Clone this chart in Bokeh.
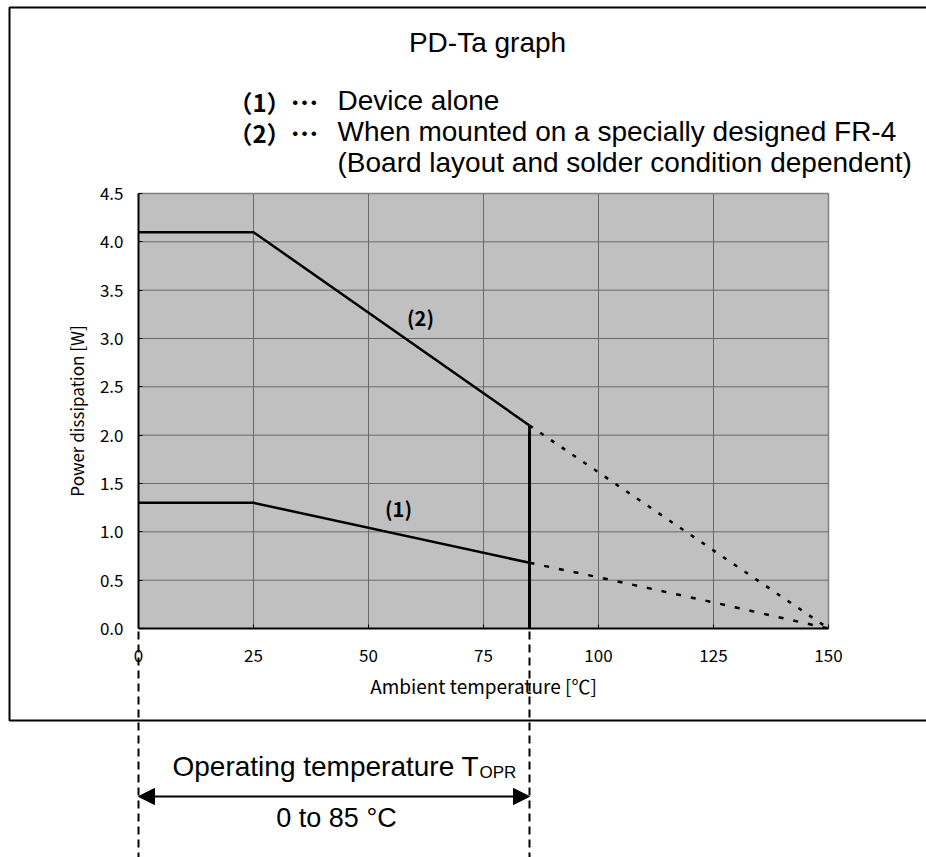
from bokeh.plotting import figure
from bokeh.models import (Range1d, Label, Arrow, NormalHead, FixedTicker,
                          NumeralTickFormatter, LinearAxis)
from bokeh.embed import file_html
from bokeh.resources import INLINE

# ---------------- data ----------------
temp_ticks = [0, 25, 50, 75, 100, 125, 150]
pd_ticks = [0.0, 0.5, 1.0, 1.5, 2.0, 2.5, 3.0, 3.5, 4.0, 4.5]

# (1) device alone
curve1_t = [0, 25, 85]
curve1_pd = [1.3, 1.3, 0.68]
curve1_ext_t = [85, 100, 125, 150]
curve1_ext_pd = [0.68, 0.53, 0.27, 0.0]

# (2) mounted on FR-4
curve2_t = [0, 25, 85]
curve2_pd = [4.1, 4.1, 2.1]
curve2_ext_t = [85, 150]
curve2_ext_pd = [2.1, 0.0]

opr_range = [0, 85]

# ---------------- layout (pixel positions of the plot area) ----------------
W, H = 926, 857
FL, FR, FT, FB = 138, 828, 193, 628
X0, X1 = temp_ticks[0], temp_ticks[-1]
Y0, Y1 = pd_ticks[0], pd_ticks[-1]


def dx(px):
    return X0 + (px - FL) * (X1 - X0) / (FR - FL)


def dy(py):
    return Y0 + (FB - py) * (Y1 - Y0) / (FB - FT)


p = figure(width=W, height=H, x_range=Range1d(dx(0), dx(W)), y_range=Range1d(dy(H), dy(0)),
           output_backend="svg", toolbar_location=None,
           x_axis_location=None, y_axis_location=None,
           min_border=0, background_fill_color="white", border_fill_color="white")
p.outline_line_color = None
p.grid.visible = False

TICK_FONT = "Noto Sans CJK JP"
TXT = "Liberation Sans"

# plot area background and grid
p.quad(left=[X0], right=[X1], bottom=[Y0], top=[Y1], fill_color="#C0C0C0", line_color=None)
p.segment(x0=temp_ticks[1:], y0=Y0, x1=temp_ticks[1:], y1=Y1, line_color="#6a6a6a", line_width=1)
p.segment(x0=X0, y0=pd_ticks[1:], x1=X1, y1=pd_ticks[1:], line_color="#6a6a6a", line_width=1)
p.line([X1, X1, X0], [Y0, Y1, Y1], line_color="#808080", line_width=1.5)

# axes, fixed at the plot-area edges
xaxis = LinearAxis(fixed_location=Y0, bounds=(X0, X1), ticker=FixedTicker(ticks=temp_ticks),
                   axis_label="Ambient temperature [℃]")
yaxis = LinearAxis(fixed_location=X0, bounds=(Y0, Y1), ticker=FixedTicker(ticks=pd_ticks),
                   formatter=NumeralTickFormatter(format="0.0"),
                   axis_label="Power dissipation [W]")
for ax in (xaxis, yaxis):
    ax.axis_line_color = "black"
    ax.axis_line_width = 2
    ax.major_tick_in = 4
    ax.major_tick_out = 0
    ax.major_tick_line_color = "black"
    ax.minor_tick_line_color = None
    ax.major_label_text_font = TICK_FONT
    ax.major_label_text_font_size = "17px"
    ax.major_label_text_color = "black"
    ax.axis_label_text_font = TICK_FONT
    ax.axis_label_text_font_style = "normal"
    ax.axis_label_text_color = "black"
xaxis.major_label_standoff = 20
yaxis.major_label_standoff = 15
xaxis.axis_label_text_font_size = "19px"
yaxis.axis_label_text_font_size = "17px"
xaxis.axis_label_standoff = 7
yaxis.axis_label_standoff = 8
p.add_layout(xaxis, "below")
p.add_layout(yaxis, "left")

# curves
p.line(curve1_t, curve1_pd, line_color="black", line_width=2.5)
p.line(curve1_ext_t, curve1_ext_pd, line_color="black", line_width=2.5, line_dash="5 10")
p.line(curve2_t, curve2_pd, line_color="black", line_width=2.5)
p.line(curve2_ext_t, curve2_ext_pd, line_color="black", line_width=2.5, line_dash="4 9")
p.line([opr_range[1], opr_range[1]], [Y0, curve2_pd[-1]], line_color="black", line_width=3)

# curve labels
for txt, px, py in [("(2)", 420, 317), ("(1)", 398, 508)]:
    p.add_layout(Label(x=dx(px), y=dy(py), text=txt, text_align="center", text_baseline="middle",
                       text_font=TICK_FONT, text_font_size="20px", text_font_style="bold",
                       text_color="black"))

# outer box
p.line([dx(W + 10), dx(9), dx(9), dx(W + 10)], [dy(7), dy(7), dy(720), dy(720)],
       line_color="black", line_width=2)

# title and legend
p.add_layout(Label(x=dx(487), y=dy(42), text="PD-Ta graph", text_align="center",
                   text_baseline="middle", text_font=TXT, text_font_size="28px",
                   text_color="black"))
legend_rows = [("（1）", "Device alone", 100),
               ("（2）", "When mounted on a specially designed FR-4", 131),
               (None, "(Board layout and solder condition dependent)", 162)]
for tag, txt, mid in legend_rows:
    if tag:
        p.add_layout(Label(x=dx(259), y=dy(mid + 1), text=tag, text_align="center",
                           text_baseline="middle", text_font=TICK_FONT,
                           text_font_size="24px", text_font_style="bold", text_color="black"))
        p.add_layout(Label(x=dx(304), y=dy(mid + 1), text="…", text_align="center",
                           text_baseline="middle", text_font=TICK_FONT, text_font_size="28px",
                           text_font_style="bold", text_color="black"))
    p.add_layout(Label(x=dx(337), y=dy(mid), text=txt, text_align="left",
                       text_baseline="middle", text_font=TXT, text_font_size="28px",
                       text_color="black"))

# operating temperature range
for t in opr_range:
    p.line([t, t], [dy(631), dy(H + 5)], line_color="black", line_width=2, line_dash="8 5")
p.add_layout(Arrow(start=NormalHead(size=16, fill_color="black", line_color="black"),
                   end=NormalHead(size=16, fill_color="black", line_color="black"),
                   x_start=opr_range[0], y_start=dy(796), x_end=opr_range[1], y_end=dy(796),
                   line_color="black", line_width=2))
p.add_layout(Label(x=dx(172), y=dy(766), text="Operating temperature T", text_align="left",
                   text_baseline="middle", text_font=TXT, text_font_size="28px",
                   text_color="black"))
p.add_layout(Label(x=dx(479), y=dy(772), text="OPR", text_align="left",
                   text_baseline="middle", text_font=TXT, text_font_size="17px",
                   text_color="black"))
p.add_layout(Label(x=dx(336), y=dy(817), text="0 to 85 °C", text_align="center",
                   text_baseline="middle", text_font=TXT, text_font_size="27px",
                   text_color="black"))

open("out.html", "w").write(file_html(p, INLINE))
